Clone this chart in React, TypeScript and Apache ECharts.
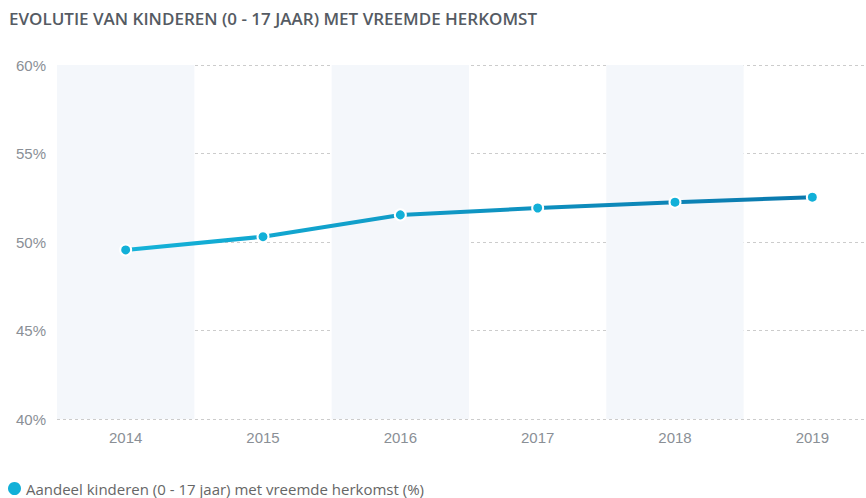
import React, { useEffect, useRef } from "react";
import * as echarts from "echarts";

const categories = ["2014", "2015", "2016", "2017", "2018", "2019"];
const values = [49.55, 50.3, 51.53, 51.92, 52.25, 52.53];
const seriesName = "Aandeel kinderen (0 - 17 jaar) met vreemde herkomst (%)";
const title = "EVOLUTIE VAN KINDEREN (0 - 17 JAAR) MET VREEMDE HERKOMST";

export default function App() {
  const ref = useRef<HTMLDivElement>(null);
  useEffect(() => {
    const chart = echarts.init(ref.current!, undefined, { renderer: "svg" });
    chart.setOption({
      animation: false,
      textStyle: { fontFamily: "Open Sans" },
      title: {
        text: title,
        left: 4,
        top: 5,
        textStyle: { fontSize: 17, fontWeight: 600, color: "#555b63", fontFamily: "Open Sans" },
      },
      grid: { left: 57, right: 3, top: 65, bottom: 79, containLabel: false, outerBoundsMode: "none" },
      legend: {
        left: 8,
        top: 481,
        padding: 0,
        icon: "circle",
        itemWidth: 13,
        itemHeight: 13,
        itemGap: 10,
        textStyle: { fontSize: 15, color: "#666", fontFamily: "Open Sans" },
        data: [{ name: seriesName, itemStyle: { color: "#12b0d8", borderWidth: 0 } }],
      },
      xAxis: {
        type: "category",
        data: categories,
        boundaryGap: true,
        axisLine: { show: false },
        axisTick: { show: false },
        axisLabel: { color: "#8a8f96", fontSize: 15, margin: 11, fontFamily: "Liberation Sans" },
        splitArea: { show: true, areaStyle: { color: ["#f4f7fb", "rgba(255,255,255,0)"] } },
      },
      yAxis: {
        type: "value",
        min: 40,
        max: 60,
        interval: 5,
        axisLine: { show: false },
        axisTick: { show: false },
        axisLabel: { color: "#8a8f96", fontSize: 15, formatter: "{value}%", margin: 11, fontFamily: "Liberation Sans" },
        splitLine: { lineStyle: { type: [3, 3], color: "#cccccc", width: 1 } },
      },
      series: [
        {
          name: seriesName,
          type: "line",
          data: values,
          symbol: "circle",
          symbolSize: 11,
          itemStyle: { color: "#12b0d8", borderColor: "#ffffff", borderWidth: 2 },
          lineStyle: {
            width: 4,
            color: new echarts.graphic.LinearGradient(0, 0, 1, 0, [
              { offset: 0, color: "#14b3d9" },
              { offset: 1, color: "#0a78ad" },
            ]),
          },
        },
      ],
    });
    return () => chart.dispose();
  }, []);
  return (
    <div
      style={{ position: "absolute", left: 0, top: 0, width: 866, height: 498, overflow: "hidden" }}
    >
      <div ref={ref} style={{ width: 884, height: 498 }} />
    </div>
  );
}
